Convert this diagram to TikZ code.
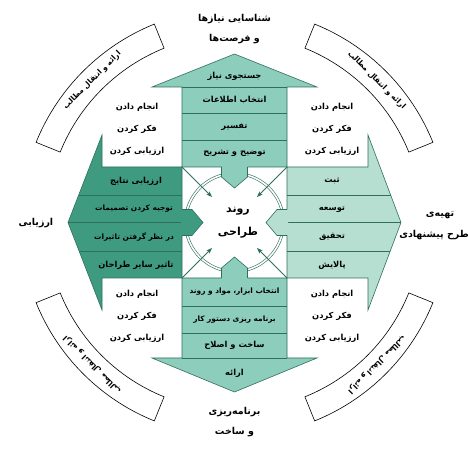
\documentclass[tikz,border=0pt]{standalone}
\usepackage{fontspec}
\TeXXeTstate=1
\newfontfamily\fa[Script=Arabic]{DejaVu Sans}
\newcommand{\RL}[1]{\beginR #1\endR}
\usetikzlibrary{arrows.meta}
\definecolor{topc}{HTML}{8DCDBB}
\definecolor{leftc}{HTML}{3F9B80}
\definecolor{rightc}{HTML}{B6DFD2}
\definecolor{linec}{HTML}{2F6F5E}
\begin{document}
\begin{tikzpicture}[x=1pt,y=-1pt,
  arr/.style={draw=linec, line width=0.6pt},
  rowline/.style={draw=linec, line width=0.6pt},
  band/.style={draw=black, line width=0.6pt, fill=white},
  txt/.style={font=\fa\bfseries\fontsize{8.3}{9}\selectfont, inner sep=0pt, text=black},
  txtsm/.style={font=\fa\bfseries\fontsize{7.4}{8}\selectfont, inner sep=0pt, text=black},
  lbl/.style={font=\fa\bfseries\fontsize{9.5}{11}\selectfont, inner sep=0pt, text=black},
  ctr/.style={font=\fa\bfseries\fontsize{11}{13}\selectfont, inner sep=0pt, text=black},
  bandtxt/.style={font=\fa\bfseries\fontsize{7.5}{8}\selectfont, inner sep=0pt, text=black},
  diag/.style={draw=linec, line width=0.8pt, -{Stealth[length=6pt,width=4.5pt]}},
  dcirc/.style={draw=linec, line width=0.6pt, double=white, double distance=1.6pt}]
\fill[white] (0,0) rectangle (469,449);
\useasboundingbox (0,0) rectangle (469,449);
% corner bands
\begin{scope}[shift={(234.5,222.5)}]
  \draw[band] (202:188) arc[start angle=202,end angle=248,radius=188] -- (248:214) arc[start angle=248,end angle=202,radius=214] -- cycle;
  \draw[band] (292:188) arc[start angle=292,end angle=338,radius=188] -- (338:214) arc[start angle=338,end angle=292,radius=214] -- cycle;
  \draw[band] (112:188) arc[start angle=112,end angle=158,radius=188] -- (158:214) arc[start angle=158,end angle=112,radius=214] -- cycle;
  \draw[band] (22:188) arc[start angle=22,end angle=68,radius=188] -- (68:214) arc[start angle=68,end angle=22,radius=214] -- cycle;
  \node[bandtxt, rotate=45] (b1) at (225:201) {\RL{ارائه و انتقال مطالب}};
  \node[bandtxt, rotate=-45] (b2) at (315:201) {\RL{ارائه و انتقال مطالب}};
  \node[bandtxt, rotate=135] (b3) at (135:201) {\RL{ارائه و انتقال مطالب}};
  \node[bandtxt, rotate=-135] (b4) at (45:201) {\RL{ارائه و انتقال مطالب}};
\end{scope}
% top arrow
\filldraw[arr, fill=topc] (182,167) -- (182,87) -- (152,87) -- (234.5,54) -- (317,87) -- (287,87) -- (287,167) -- cycle;
\draw[rowline] (182,87) -- (287,87) (182,113) -- (287,113) (182,140) -- (287,140);
% bottom arrow
\filldraw[arr, fill=topc] (182,278) -- (182,358) -- (152,358) -- (234.5,392) -- (317,358) -- (287,358) -- (287,278) -- cycle;
\draw[rowline] (182,306) -- (287,306) (182,333) -- (287,333) (182,358) -- (287,358);
% left arrow
\filldraw[arr, fill=leftc] (182,167) -- (102,167) -- (102,135) -- (68,222.5) -- (102,310) -- (102,278) -- (182,278) -- cycle;
\draw[rowline] (78.7,195) -- (182,195) (68,222.5) -- (182,222.5) (79.1,251) -- (182,251);
% right arrow
\filldraw[arr, fill=rightc] (287,167) -- (368,167) -- (368,135) -- (401,222.5) -- (368,310) -- (368,278) -- (287,278) -- cycle;
\draw[rowline] (287,195) -- (390.6,195) (287,222.5) -- (401,222.5) (287,251) -- (390.3,251);
% circle
\draw[dcirc] (234.5,222.5) circle[radius=49];
% tips into the square
\fill[topc] (221.5,166) -- (221.5,177) -- (234.5,188) -- (247.5,177) -- (247.5,166) -- cycle;
\draw[arr] (221.5,167) -- (221.5,177) -- (234.5,188) -- (247.5,177) -- (247.5,167);
\fill[topc] (221.5,279) -- (221.5,268) -- (234.5,257) -- (247.5,268) -- (247.5,279) -- cycle;
\draw[arr] (221.5,278) -- (221.5,268) -- (234.5,257) -- (247.5,268) -- (247.5,278);
\fill[leftc] (181,209.5) -- (192,209.5) -- (203,222.5) -- (192,235.5) -- (181,235.5) -- cycle;
\draw[arr] (182,209.5) -- (192,209.5) -- (203,222.5) -- (192,235.5) -- (182,235.5);
\fill[rightc] (288,209.5) -- (277,209.5) -- (266,222.5) -- (277,235.5) -- (288,235.5) -- cycle;
\draw[arr] (287,209.5) -- (277,209.5) -- (266,222.5) -- (277,235.5) -- (287,235.5);
% diagonal arrows
\coordinate (c1) at (182,167); \coordinate (e1) at (212,197);
\coordinate (c2) at (287,167); \coordinate (e2) at (257,197);
\coordinate (c3) at (182,278); \coordinate (e3) at (212,248);
\coordinate (c4) at (287,278); \coordinate (e4) at (257,248);
\draw[diag] (c1) -- (e1);
\draw[diag] (c2) -- (e2);
\draw[diag] (c3) -- (e3);
\draw[diag] (c4) -- (e4);
% texts top
\node[txt] (t0) at (234.5,76) {\RL{جستجوی نیاز}};
\node[txt] (t1) at (234.5,100) {\RL{انتخاب اطلاعات}};
\node[txt] (t2) at (234.5,126.5) {\RL{تفسیر}};
\node[txt] (t3) at (234.5,153.5) {\RL{توضیح و تشریح}};
% bottom
\node[txtsm] (d1) at (234.5,292) {\RL{انتخاب ابزار، مواد و روند}};
\node[txtsm] (d2) at (234.5,319.5) {\RL{برنامه ریزی دستور کار}};
\node[txt] (d3) at (234.5,345.5) {\RL{ساخت و اصلاح}};
\node[txt] (d4) at (234.5,373) {\RL{ارائه}};
% left
\node[txt] (l1) at (136,181) {\RL{ارزیابی نتایج}};
\node[txtsm] (l2) at (134,209) {\RL{توجیه کردن تصمیمات}};
\node[txtsm] (l3) at (134,237) {\RL{در نظر گرفتن تاثیرات}};
\node[txt] (l4) at (136,265) {\RL{تاثیر سایر طراحان}};
% right
\node[txt] (r1) at (332,181) {\RL{ثبت}};
\node[txt] (r2) at (332,209) {\RL{توسعه}};
\node[txt] (r3) at (332,237) {\RL{تحقیق}};
\node[txt] (r4) at (332,265) {\RL{پالایش}};
% centre
\node[ctr] (m1) at (238,211) {\RL{روند}};
\node[ctr] (m2) at (238,233) {\RL{طراحی}};
% corner blocks
\node[txt] (ul1) at (137,107) {\RL{انجام دادن}};
\node[txt] (ul2) at (137,129) {\RL{فکر کردن}};
\node[txt] (ul3) at (137,151) {\RL{ارزیابی کردن}};
\node[txt] (ur1) at (332,107) {\RL{انجام دادن}};
\node[txt] (ur2) at (332,129) {\RL{فکر کردن}};
\node[txt] (ur3) at (332,151) {\RL{ارزیابی کردن}};
\node[txt] (bl1) at (137,294) {\RL{انجام دادن}};
\node[txt] (bl2) at (137,316) {\RL{فکر کردن}};
\node[txt] (bl3) at (137,338) {\RL{ارزیابی کردن}};
\node[txt] (br1) at (332,294) {\RL{انجام دادن}};
\node[txt] (br2) at (332,316) {\RL{فکر کردن}};
\node[txt] (br3) at (332,338) {\RL{ارزیابی کردن}};
% outer labels
\node[lbl] (o1) at (234.5,19) {\RL{شناسایی نیازها}};
\node[lbl] (o2) at (234.5,39) {\RL{و فرصت‌ها}};
\node[lbl] (o3) at (234.5,412) {\RL{برنامه‌ریزی}};
\node[lbl] (o4) at (234.5,432) {\RL{و ساخت}};
\node[lbl] (o5) at (36,223) {\RL{ارزیابی}};
\node[lbl] (o6) at (440,215) {\RL{تهیه‌ی}};
\node[lbl] (o7) at (434,235) {\RL{طرح پیشنهادی}};
\end{tikzpicture}
\end{document}
